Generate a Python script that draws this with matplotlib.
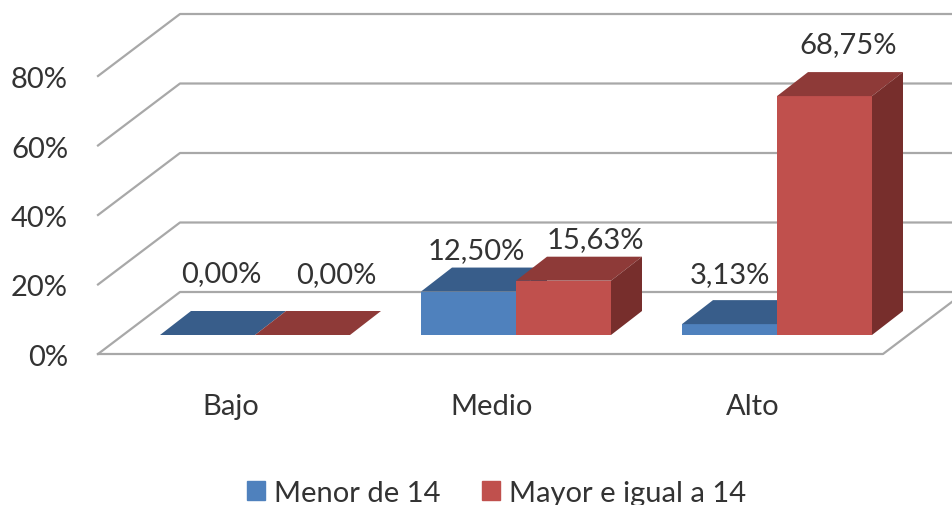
import matplotlib
matplotlib.use('Agg')
import matplotlib.pyplot as plt
from matplotlib.patches import Patch

categories = ['Bajo', 'Medio', 'Alto']
menor = [0.00, 12.50, 3.13]
mayor = [0.00, 15.63, 68.75]
menor_labels = ['0,00%', '12,50%', '3,13%']
mayor_labels = ['0,00%', '15,63%', '68,75%']
y_ticks = [0, 20, 40, 60, 80]
y_tick_labels = ['0%', '20%', '40%', '60%', '80%']

plt.rcParams['font.family'] = ['Lato', 'DejaVu Sans']

# pixel scale of the picture
PX_X = 261.0
PX_Y = 3.475
X0 = 255.0
Y0 = 336.0
W, H = 952, 506

# 3d look, given in data units
bar_w = 95 / PX_X
bar_dx = 31 / PX_X
bar_dy = 24 / PX_Y
floor_y = -(355 - Y0) / PX_Y
floor_left = (98 - X0) / PX_X
floor_right = (883 - X0) / PX_X
wall_dx = 82 / PX_X
wall_dy = 62 / PX_Y

grid_c = '#a8a8a8'
text_c = '#333333'
blue = ('#4f81bd', '#385d8a', '#2f4f76')
red = ('#c0504d', '#8e3a38', '#772e2c')


def draw_bar(ax, x, val, cols):
    front, top, side = cols
    ax.fill([x, x + bar_w, x + bar_w, x], [0, 0, val, val], color=front, lw=0, zorder=3)
    ax.fill([x, x + bar_w, x + bar_w + bar_dx, x + bar_dx],
            [val, val, val + bar_dy, val + bar_dy], color=top, lw=0, zorder=3)
    ax.fill([x + bar_w, x + bar_w + bar_dx, x + bar_w + bar_dx, x + bar_w],
            [0, bar_dy, val + bar_dy, val], color=side, lw=0, zorder=3)


fig = plt.figure(figsize=(W / 100, H / 100), dpi=100)
ax = fig.add_axes([0, 0, 1, 1])
ax.set_xlim(-X0 / PX_X, (W - X0) / PX_X)
ax.set_ylim((Y0 - H) / PX_Y, Y0 / PX_Y)
ax.axis('off')

# walls and floor
for t, lab in zip(y_ticks, y_tick_labels):
    yf = floor_y + t
    ax.plot([floor_left, floor_left + wall_dx, 10], [yf, yf + wall_dy, yf + wall_dy],
            color=grid_c, lw=1.6, zorder=1)
    ax.text(floor_left - 30 / PX_X, yf - 3 / PX_Y, lab, ha='right', va='center',
            fontsize=21, color=text_c)
ax.plot([floor_left, floor_right, floor_right + wall_dx],
        [floor_y, floor_y, floor_y + wall_dy], color=grid_c, lw=1.6, zorder=1)

# bars, blue first so the red one covers its side
label_offset_menor = [(14, 62), (8, 42), (0, 50)]
label_offset_mayor = [(34, 61), (32, 42), (24, 52)]
for i in range(len(categories)):
    draw_bar(ax, i - bar_w, menor[i], blue)
    draw_bar(ax, i, mayor[i], red)
    ax.annotate(menor_labels[i], (i - bar_w / 2, menor[i]), xytext=label_offset_menor[i],
                textcoords='offset pixels', ha='center', va='center',
                fontsize=21, color=text_c, zorder=5)
    ax.annotate(mayor_labels[i], (i + bar_w / 2, mayor[i]), xytext=label_offset_mayor[i],
                textcoords='offset pixels', ha='center', va='center',
                fontsize=21, color=text_c, zorder=5)
    ax.text(i - 24 / PX_X, (Y0 - 407) / PX_Y, categories[i], ha='center', va='center',
            fontsize=21, color=text_c)

handles = [Patch(color=blue[0], label='Menor de 14'), Patch(color=red[0], label='Mayor e igual a 14')]
fig.legend(handles=handles, loc='center', bbox_to_anchor=(496.5 / W, 1 - 494 / H), ncol=2,
           frameon=False, fontsize=21, handlelength=0.62, handleheight=0.62,
           handletextpad=0.3, columnspacing=1.45, labelcolor=text_c,
           borderpad=0, borderaxespad=0)

fig.savefig('out.png', dpi=100)
